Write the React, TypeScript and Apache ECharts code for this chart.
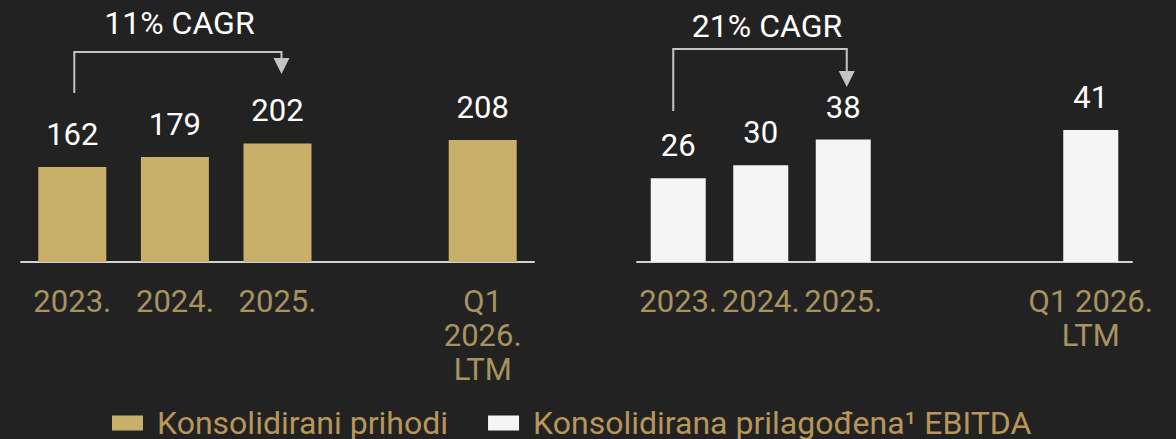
import React, { useEffect, useRef } from 'react';
import * as echarts from 'echarts';

const revenueCategories = ['2023.', '2024.', '2025.', ' ', 'Q1\n2026.\nLTM'];
const revenueValues = [162, 179, 202, null, 208];
const ebitdaCategories = ['2023.', '2024.', '2025.', ' ', '  ', 'Q1 2026.\nLTM'];
const ebitdaValues = [26, 30, 38, null, null, 41];
const seriesNames = ['Konsolidirani prihodi', 'Konsolidirana prilagođena¹ EBITDA'];
const cagrLabels = ['11% CAGR', '21% CAGR'];

const BG = '#222222';
const GOLD = '#c8b06b';
const WHITE_BAR = '#f5f5f5';
const CAT_COLOR = '#a8925e';
const LEGEND_COLOR = '#b8965a';
const LINE_GRAY = '#c4c4c4';
const FONT = 'Roboto';

function catAxis(gridIndex: number, data: string[], lineHeight: number) {
  return {
    type: 'category',
    gridIndex,
    data,
    axisTick: { show: false },
    axisLine: { lineStyle: { color: '#d2d2d2', width: 2 } },
    axisLabel: {
      interval: 0,
      hideOverlap: false,
      margin: 22,
      fontSize: 31,
      lineHeight,
      color: CAT_COLOR,
      fontFamily: FONT,
    },
  };
}

function barSeries(name: string, idx: number, data: (number | null)[], color: string, width: number) {
  return {
    type: 'bar',
    name,
    xAxisIndex: idx,
    yAxisIndex: idx,
    data,
    barWidth: width,
    itemStyle: { color },
    label: {
      show: true,
      position: 'top',
      distance: 17,
      color: '#ffffff',
      fontSize: 31,
      fontFamily: FONT,
    },
  };
}

export default function App() {
  const ref = useRef<HTMLDivElement>(null);
  useEffect(() => {
    if (!ref.current) return;
    const chart = echarts.init(ref.current, undefined, { renderer: 'svg' });
    chart.setOption({
      animation: false,
      backgroundColor: BG,
      textStyle: { fontFamily: FONT },
      grid: [
        { left: 21, width: 513, top: 12, height: 250 },
        { left: 637, width: 495, top: 12, height: 250 },
      ],
      xAxis: [catAxis(0, revenueCategories, 34), catAxis(1, ebitdaCategories, 34)],
      yAxis: [
        { type: 'value', gridIndex: 0, min: 0, max: 426, show: false },
        { type: 'value', gridIndex: 1, min: 0, max: 77.6, show: false },
      ],
      legend: {
        left: 107,
        top: 402,
        itemWidth: 31,
        itemHeight: 15,
        itemGap: 40,
        icon: 'rect',
        data: seriesNames,
        textStyle: { color: LEGEND_COLOR, fontSize: 32, lineHeight: 30, fontFamily: FONT, padding: [0, 0, 0, 9] },
      },
      series: [
        barSeries(seriesNames[0], 0, revenueValues, GOLD, 68),
        barSeries(seriesNames[1], 1, ebitdaValues, WHITE_BAR, 55),
      ],
    });

    const px = (axis: number, i: number) =>
      (chart.convertToPixel({ xAxisIndex: axis }, i) as number);

    const bracket = (x1: number, x2: number, yBottom: number, yTop: number, arrowTop: number, arrowBottom: number) => [
      {
        type: 'polyline',
        shape: { points: [[x1, yBottom], [x1, yTop], [x2, yTop], [x2, arrowTop]] },
        style: { stroke: LINE_GRAY, lineWidth: 2, fill: null },
        silent: true,
      },
      {
        type: 'polygon',
        shape: { points: [[x2 - 8, arrowTop], [x2 + 8, arrowTop], [x2, arrowBottom]] },
        style: { fill: LINE_GRAY },
        silent: true,
      },
    ];

    const l1 = px(0, 0) + 2;
    const l2 = px(0, 2) + 4;
    const r1 = px(1, 0) - 5;
    const r2 = px(1, 2) + 3.5;

    chart.setOption({
      graphic: [
        ...bracket(l1, l2, 93, 52, 58, 74),
        ...bracket(r1, r2, 111, 49, 71, 87),
        {
          type: 'text',
          x: (l1 + l2) / 2 + 1.5,
          y: 23,
          silent: true,
          style: { text: cagrLabels[0], fill: '#ffffff', fontSize: 32, fontFamily: FONT, align: 'center', verticalAlign: 'middle' },
        },
        {
          type: 'text',
          x: (r1 + r2) / 2 + 7,
          y: 25.5,
          silent: true,
          style: { text: cagrLabels[1], fill: '#ffffff', fontSize: 32, fontFamily: FONT, align: 'center', verticalAlign: 'middle' },
        },
      ],
    });

    return () => chart.dispose();
  }, []);
  return (
    <div
      ref={ref}
      style={{ position: 'fixed', left: 0, top: 0, width: 1176, height: 439, background: BG }}
    />
  );
}
